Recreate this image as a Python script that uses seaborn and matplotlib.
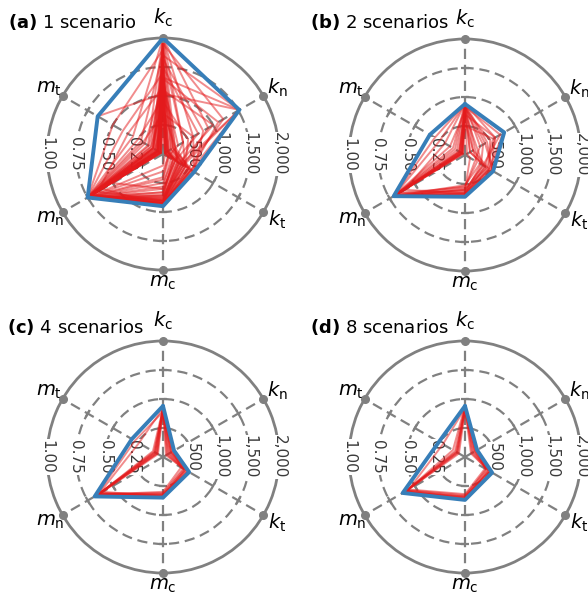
import numpy as np
import pandas as pd
import matplotlib.pyplot as plt
import seaborn as sns

# spoke order, labels and directions (degrees, counter-clockwise from east)
axis_keys = ["k_c", "k_n", "k_t", "m_c", "m_n", "m_t"]
axis_labels = [r"$k_\mathrm{c}$", r"$k_\mathrm{n}$", r"$k_\mathrm{t}$",
               r"$m_\mathrm{c}$", r"$m_\mathrm{n}$", r"$m_\mathrm{t}$"]
axis_angles_deg = [90, 30, 330, 270, 210, 150]

# radial levels (fraction of axis maximum) and their labels
tick_levels = [0.25, 0.5, 0.75, 1.0]
m_tick_labels = ["0.25", "0.50", "0.75", "1.00"]
k_tick_labels = ["500", "1,000", "1,500", "2,000"]

panel_letters = ["(a)", "(b)", "(c)", "(d)"]
panel_titles = ["1 scenario", "2 scenarios", "4 scenarios", "8 scenarios"]

# values normalised to the axis maximum, order: k_c, k_n, k_t, m_c, m_n, m_t
envelope_a = [1.00, 0.76, 0.31, 0.45, 0.75, 0.65]
runs_a = [
    [1.00, 0.76, 0.28, 0.42, 0.75, 0.10],
    [1.00, 0.45, 0.20, 0.40, 0.75, 0.05],
    [1.00, 0.30, 0.31, 0.45, 0.74, 0.15],
    [1.00, 0.12, 0.15, 0.38, 0.75, 0.30],
    [0.95, 0.60, 0.25, 0.44, 0.75, 0.08],
    [0.92, 0.05, 0.10, 0.35, 0.75, 0.02],
    [0.88, 0.20, 0.22, 0.42, 0.75, 0.22],
    [0.85, 0.76, 0.18, 0.40, 0.72, 0.05],
    [0.80, 0.10, 0.30, 0.45, 0.75, 0.12],
    [0.75, 0.35, 0.12, 0.30, 0.75, 0.03],
    [0.70, 0.08, 0.25, 0.43, 0.75, 0.40],
    [0.66, 0.76, 0.20, 0.38, 0.75, 0.10],
    [0.62, 0.15, 0.05, 0.20, 0.75, 0.05],
    [0.60, 0.04, 0.28, 0.44, 0.73, 0.18],
    [0.55, 0.50, 0.16, 0.36, 0.75, 0.02],
    [0.52, 0.76, 0.30, 0.42, 0.75, 0.65],
    [0.48, 0.06, 0.12, 0.33, 0.75, 0.25],
    [0.45, 0.25, 0.22, 0.41, 0.70, 0.06],
    [0.42, 0.02, 0.08, 0.28, 0.75, 0.12],
    [0.38, 0.12, 0.26, 0.45, 0.75, 0.04],
    [0.35, 0.30, 0.18, 0.37, 0.75, 0.20],
    [0.30, 0.05, 0.10, 0.25, 0.75, 0.08],
    [0.72, 0.02, 0.05, 0.15, 0.75, 0.03],
    [0.82, 0.40, 0.31, 0.45, 0.60, 0.10],
    [1.00, 0.20, 0.12, 0.30, 0.50, 0.05],
    [0.58, 0.10, 0.20, 0.40, 0.65, 0.35],
    [0.90, 0.03, 0.16, 0.42, 0.75, 0.50],
    [0.25, 0.02, 0.06, 0.22, 0.75, 0.02],
    [0.65, 0.55, 0.28, 0.45, 0.75, 0.02],
    [0.78, 0.02, 0.02, 0.10, 0.75, 0.06],
    [0.86, 0.04, 0.14, 0.40, 0.75, 0.04],
    [0.68, 0.03, 0.18, 0.42, 0.75, 0.07],
    [0.56, 0.06, 0.22, 0.44, 0.75, 0.03],
    [0.44, 0.04, 0.16, 0.39, 0.75, 0.05],
    [0.74, 0.08, 0.24, 0.41, 0.75, 0.09],
    [0.94, 0.10, 0.27, 0.43, 0.75, 0.06],
    [0.50, 0.02, 0.10, 0.36, 0.75, 0.10],
    [0.64, 0.12, 0.14, 0.33, 0.75, 0.14],
]

envelope_b = [0.44, 0.39, 0.28, 0.36, 0.71, 0.35]
runs_b = [
    [0.44, 0.39, 0.26, 0.35, 0.71, 0.30],
    [0.44, 0.30, 0.22, 0.33, 0.71, 0.05],
    [0.43, 0.20, 0.28, 0.36, 0.70, 0.08],
    [0.42, 0.35, 0.18, 0.30, 0.71, 0.03],
    [0.44, 0.10, 0.15, 0.26, 0.71, 0.10],
    [0.40, 0.25, 0.24, 0.34, 0.68, 0.02],
    [0.38, 0.05, 0.20, 0.32, 0.71, 0.15],
    [0.44, 0.15, 0.10, 0.28, 0.65, 0.04],
    [0.35, 0.30, 0.26, 0.36, 0.71, 0.06],
    [0.30, 0.08, 0.12, 0.27, 0.70, 0.02],
    [0.44, 0.38, 0.24, 0.33, 0.60, 0.20],
    [0.41, 0.02, 0.05, 0.30, 0.71, 0.05],
    [0.44, 0.22, 0.27, 0.35, 0.71, 0.12],
    [0.36, 0.12, 0.18, 0.31, 0.66, 0.03],
    [0.44, 0.05, 0.22, 0.29, 0.71, 0.25],
    [0.25, 0.28, 0.20, 0.34, 0.71, 0.04],
    [0.43, 0.08, 0.24, 0.35, 0.71, 0.03],
    [0.40, 0.18, 0.16, 0.33, 0.70, 0.06],
]

envelope_c = [0.44, 0.11, 0.26, 0.35, 0.68, 0.31]
runs_c = [
    [0.42, 0.08, 0.24, 0.34, 0.66, 0.08],
    [0.41, 0.05, 0.21, 0.32, 0.65, 0.06],
    [0.43, 0.10, 0.26, 0.35, 0.67, 0.07],
    [0.40, 0.06, 0.22, 0.33, 0.64, 0.09],
    [0.42, 0.04, 0.20, 0.31, 0.63, 0.10],
    [0.39, 0.09, 0.25, 0.34, 0.66, 0.28],
    [0.41, 0.07, 0.23, 0.33, 0.62, 0.05],
    [0.43, 0.10, 0.18, 0.30, 0.65, 0.06],
    [0.40, 0.03, 0.22, 0.34, 0.60, 0.08],
    [0.42, 0.08, 0.25, 0.32, 0.64, 0.24],
]

envelope_d = [0.44, 0.12, 0.27, 0.37, 0.62, 0.26]
runs_d = [
    [0.43, 0.10, 0.26, 0.36, 0.60, 0.08],
    [0.42, 0.08, 0.24, 0.35, 0.58, 0.07],
    [0.41, 0.11, 0.25, 0.34, 0.61, 0.09],
    [0.43, 0.07, 0.22, 0.33, 0.57, 0.10],
    [0.40, 0.09, 0.23, 0.36, 0.59, 0.06],
    [0.42, 0.12, 0.20, 0.32, 0.56, 0.22],
    [0.41, 0.06, 0.24, 0.35, 0.60, 0.08],
    [0.44, 0.10, 0.21, 0.34, 0.58, 0.12],
]

panels = [(runs_a, envelope_a), (runs_b, envelope_b),
          (runs_c, envelope_c), (runs_d, envelope_d)]

RED = "#e41a1c"
BLUE = "#377eb8"
GREY = "#808080"

sns.set_theme(style="white")
plt.rcParams["font.family"] = ["DejaVu Sans"]

theta = np.deg2rad(axis_angles_deg)
label_radius = [1.17, 1.14, 1.14, 1.11, 1.12, 1.13]


def to_frame(runs):
    rows = []
    for i, vals in enumerate(runs):
        for j in range(len(axis_keys) + 1):
            k = j % len(axis_keys)
            rows.append({"run": i, "step": j, "theta": theta[k], "r": vals[k]})
    return pd.DataFrame(rows)


def draw_radar(ax, runs, envelope):
    sns.lineplot(data=to_frame(runs), x="theta", y="r", units="run",
                 estimator=None, sort=False, color=RED, alpha=0.5, lw=1.4,
                 ax=ax, legend=False, zorder=3)
    sns.lineplot(data=to_frame([envelope]), x="theta", y="r", units="run",
                 estimator=None, sort=False, color=BLUE, lw=2.8,
                 ax=ax, legend=False, zorder=5)
    ax.set_xlabel("")
    ax.set_ylabel("")

    ax.set_xticks(theta)
    ax.set_xticklabels([])
    ax.set_yticks(tick_levels[:-1])
    ax.set_yticklabels([])
    ax.tick_params(length=0, pad=0)
    ax.grid(True, color=GREY, linestyle=(0, (4.6, 2.6)), linewidth=1.6)
    ax.spines["polar"].set_color(GREY)
    ax.spines["polar"].set_linewidth(2)
    ax.spines["polar"].set_zorder(2.5)

    # short tick marks where the spokes cross the dashed circles
    for lev in tick_levels[:-1]:
        half = 0.035 / lev
        for t in theta:
            ax.plot([t - half, t + half], [lev, lev], color=GREY, lw=1.6,
                    solid_capstyle="butt", zorder=1)
    ax.plot(theta, [1.0] * len(theta), "o", color=GREY, ms=5.5,
            clip_on=False, zorder=4)
    # seaborn autoscales; keep the full circle
    ax.set_xlim(0, 2 * np.pi)
    ax.set_ylim(0, 1)

    for lev, ml, kl in zip(tick_levels, m_tick_labels, k_tick_labels):
        for ang, txt in ((np.pi, ml), (0.0, kl)):
            ax.text(ang, lev, txt, rotation=-90, ha="center", va="center",
                    fontsize=11, color="#3a3a3a", zorder=2.8,
                    bbox=dict(boxstyle="square,pad=0.05", fc="white", ec="none"))

    for t, lab, lr in zip(theta, axis_labels, label_radius):
        ax.text(t, lr, lab, ha="center", va="center", fontsize=14,
                color="black")


fig = plt.figure(figsize=(5.88, 6.01), dpi=100)
W, H = 588, 601
R = 116
centers = [(163, 154), (465, 155), (163, 457), (465, 457)]
title_pos = [(8, 22), (310, 22), (7, 327), (310, 327)]

for (runs, env), (cx, cy), (tx, ty), letter, title in zip(
        panels, centers, title_pos, panel_letters, panel_titles):
    ax = fig.add_axes([(cx - R) / W, 1 - (cy + R) / H, 2 * R / W, 2 * R / H],
                      projection="polar")
    draw_radar(ax, runs, env)
    fig.text(tx / W, 1 - ty / H, r"$\bf{" + letter + "}$ " + title,
             ha="left", va="center", fontsize=13, color="black")

fig.savefig("out.png", dpi=100)
